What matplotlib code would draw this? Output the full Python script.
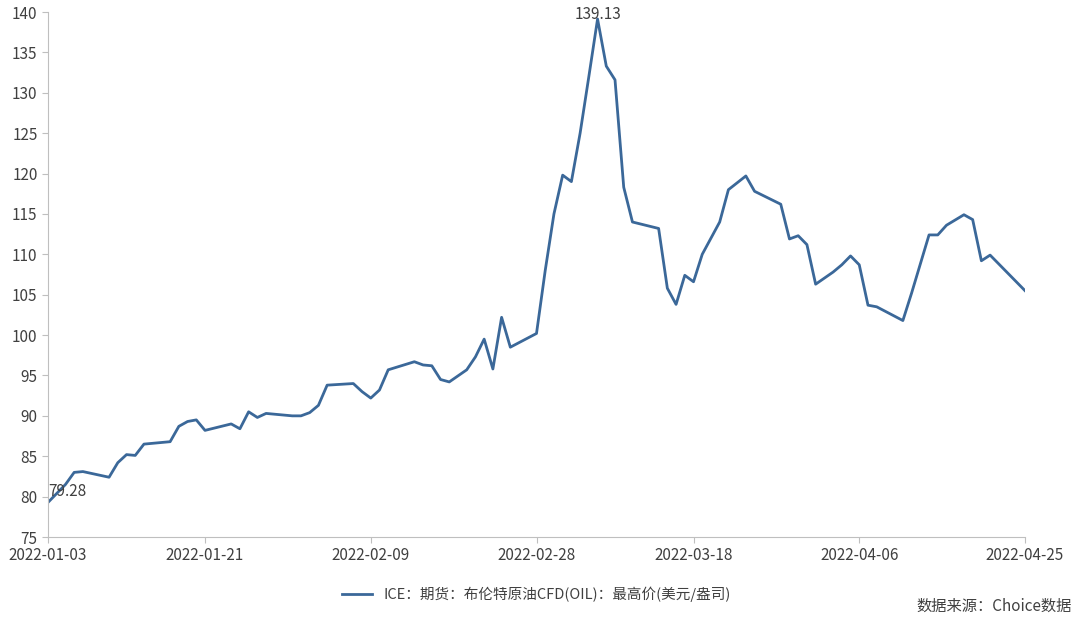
import matplotlib.pyplot as plt
import numpy as np
import pandas as pd

plt.rcParams["font.family"] = ["Noto Sans CJK SC", "DejaVu Sans"]

start = pd.Timestamp("2022-01-03")
day_offsets = [0, 2, 3, 4, 7, 8, 9, 10, 11, 14, 15, 16, 17, 18, 21, 22, 23, 24, 25,
               28, 29, 30, 31, 32, 35, 36, 37, 38, 39, 42, 43, 44, 45, 46, 48, 49,
               50, 51, 52, 53, 56, 57, 58, 59, 60, 61, 62, 63, 64, 65, 66, 67, 70,
               71, 72, 73, 74, 75, 77, 78, 80, 81, 84, 85, 86, 87, 88, 90, 91, 92,
               93, 94, 95, 98, 99, 101, 102, 103, 105, 106, 107, 108, 112]
high_price = [79.28, 81.5, 83.0, 83.1, 82.4, 84.2, 85.2, 85.1, 86.5, 86.8, 88.7, 89.3,
              89.5, 88.2, 89.0, 88.4, 90.5, 89.8, 90.3, 90.0, 90.0, 90.4, 91.3, 93.8,
              94.0, 93.0, 92.2, 93.2, 95.7, 96.7, 96.3, 96.2, 94.5, 94.2, 95.7, 97.3,
              99.5, 95.8, 102.2, 98.5, 100.2, 108.0, 115.0, 119.8, 119.0, 125.0, 132.0,
              139.13, 133.3, 131.6, 118.3, 114.0, 113.2, 105.8, 103.8, 107.4, 106.6,
              110.0, 114.0, 118.0, 119.7, 117.8, 116.2, 111.9, 112.3, 111.2, 106.3,
              107.8, 108.7, 109.8, 108.7, 103.7, 103.5, 101.8, 105.2, 112.4, 112.4,
              113.6, 114.9, 114.3, 109.2, 109.9, 105.5]
tick_labels = ["2022-01-03", "2022-01-21", "2022-02-09", "2022-02-28",
               "2022-03-18", "2022-04-06", "2022-04-25"]

dates = start + pd.to_timedelta(day_offsets, unit="D")
values = np.asarray(high_price)

fig = plt.figure(figsize=(10.8, 6.18), dpi=100)
ax = fig.add_axes([48 / 1080, 81 / 618, 977 / 1080, 525 / 618])

line_color = "#3B6899"
ax.plot(dates, values, color=line_color, linewidth=2.0,
        label="ICE：期货：布伦特原油CFD(OIL)：最高价(美元/盎司)")

ax.set_xlim(dates[0], dates[-1])
ax.set_ylim(75, 140)
ax.set_yticks(np.arange(75, 141, 5))
ax.set_xticks(pd.to_datetime(tick_labels))
ax.set_xticklabels(tick_labels)

for side in ["top", "right"]:
    ax.spines[side].set_visible(False)
for side in ["left", "bottom"]:
    ax.spines[side].set_color("#BFBFBF")
ax.tick_params(colors="#BFBFBF", labelcolor="#404040", labelsize=11, length=4)

i0 = 0
imax = int(np.argmax(values))
ax.annotate(f"{values[i0]:.2f}", (dates[i0], values[i0]), xytext=(0, 2),
            textcoords="offset points", ha="left", va="bottom", fontsize=11, color="#404040")
ax.annotate(f"{values[imax]:.2f}", (dates[imax], values[imax]), xytext=(0, -3),
            textcoords="offset points", ha="center", va="bottom", fontsize=11, color="#404040")

ax.legend(loc="upper center", bbox_to_anchor=(0.5, -0.07), frameon=False,
          fontsize=10.5, handlelength=2.0, labelcolor="#404040")
fig.text(1072 / 1080, 1 - 606 / 618, "数据来源：Choice数据", ha="right", va="center",
         fontsize=11, color="#404040")

fig.savefig("out.png", dpi=100)
